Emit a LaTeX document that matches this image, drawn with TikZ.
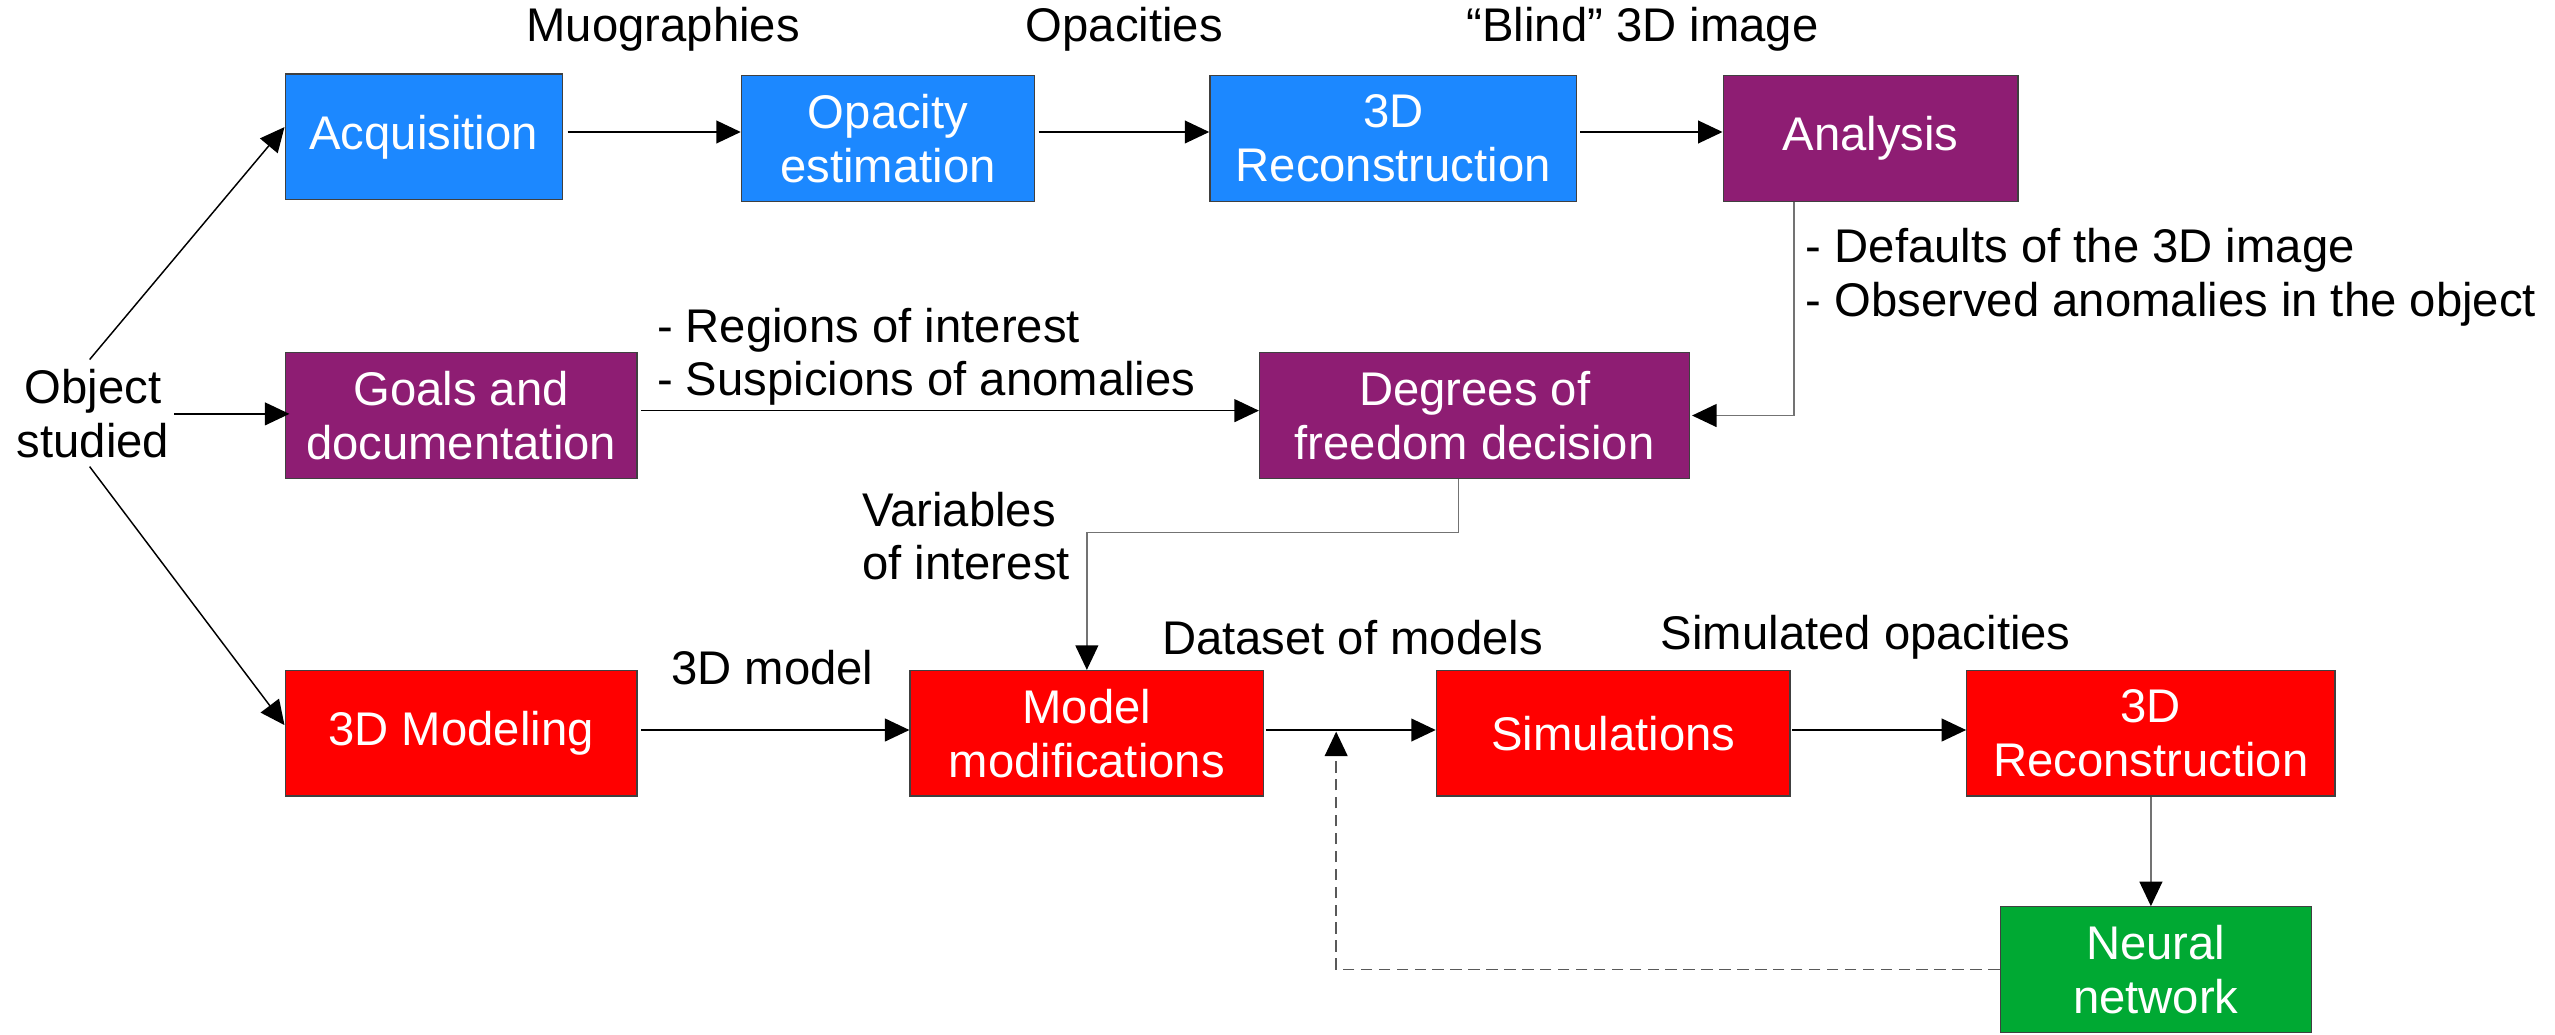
\documentclass[tikz,border=0pt]{standalone}
\usepackage{fontspec}
\setmainfont{Liberation Sans}
\usetikzlibrary{arrows.meta}
\definecolor{cblue}{HTML}{1C88FF}
\definecolor{cpurple}{HTML}{8E1D73}
\definecolor{cred}{HTML}{FF0000}
\definecolor{cgreen}{HTML}{00A933}
\tikzset{
  box/.style={draw=black!75, line width=0.8pt, text=white, align=center, inner sep=0pt, minimum height=77pt},
  lbl/.style={text=black, align=left, inner sep=0pt},
  arr/.style={line width=0.9pt, -{Triangle[length=15pt,width=14pt,color=black]}},
  garr/.style={arr, draw=black!55},
}
\begin{document}
\begin{tikzpicture}[x=1pt,y=-1pt, every node/.style={font=\fontsize{29}{33}\selectfont}]
\useasboundingbox (0,0) rectangle (1568,635);
% nodes
\node[lbl, align=center] (obj) at (57,254) {Object\\studied};
\node[box, fill=cblue, minimum width=170pt] (acq) at (260,84) {Acquisition};
\node[box, fill=cblue, minimum width=180pt] (opa) at (545,85) {Opacity\\estimation};
\node[box, fill=cblue, minimum width=225pt] (rec1) at (855,85) {3D\\Reconstruction};
\node[box, fill=cpurple, minimum width=181pt] (ana) at (1148,85) {Analysis};
\node[box, fill=cpurple, minimum width=216pt] (goals) at (283,255) {Goals and\\documentation};
\node[box, fill=cpurple, minimum width=264pt] (deg) at (905,255) {Degrees of\\freedom decision};
\node[box, fill=cred, minimum width=216pt] (mdl) at (283,450) {3D Modeling};
\node[box, fill=cred, minimum width=217pt] (mod) at (667,450) {Model\\modifications};
\node[box, fill=cred, minimum width=217pt] (sim) at (990,450) {Simulations};
\node[box, fill=cred, minimum width=226pt] (rec2) at (1320,450) {3D\\Reconstruction};
\node[box, fill=cgreen, minimum width=191pt] (nn) at (1323,595) {Neural\\network};
% labels
\node[lbl] (l1) at (407,18) {Muographies};
\node[lbl] (l2) at (690,18) {Opacities};
\node[lbl] (l3) at (1008,18) {“Blind” 3D image};
\node[lbl, anchor=west] (l4) at (1108,170) {- Defaults of the 3D image\\- Observed anomalies in the object};
\node[lbl, anchor=west] (l5) at (403,219) {- Regions of interest\\- Suspicions of anomalies};
\node[lbl, anchor=west] (l6) at (529,329) {Variables\\of interest};
\node[lbl] (l7) at (474,410) {3D model};
\node[lbl] (l8) at (830,391) {Dataset of models};
\node[lbl] (l9) at (1145,391) {Simulated opacities};
\coordinate (j) at (820,449);
% connectors
\draw[arr] ([xshift=-2pt,yshift=6pt]obj.north) -- ([yshift=6pt]acq.west);
\draw[arr] ([xshift=3pt]obj.east) -- ([xshift=3pt]obj.east -| goals.west);
\draw[arr] ([xshift=-2pt,yshift=-5pt]obj.south) -- ([yshift=5pt]mdl.west);
\draw[arr] ([xshift=3pt,yshift=3pt]acq.east) -- ([yshift=4pt]opa.west);
\draw[arr] ([xshift=2pt,yshift=4pt]opa.east) -- ([yshift=4pt]rec1.west);
\draw[arr] ([xshift=2pt,yshift=4pt]rec1.east) -- ([yshift=4pt]ana.west);
\draw[garr] ([xshift=-47pt]ana.south) |- ([xshift=1pt]deg.east);
\draw[arr] ([xshift=2pt,yshift=3pt]goals.east) -- ([yshift=3pt]deg.west);
\draw[garr] ([xshift=-10pt]deg.south) -- ++(0,33) -| (mod.north);
\draw[arr] ([xshift=2pt,yshift=2pt]mdl.east) -- ([yshift=2pt]mod.west);
\draw[arr] ([xshift=1pt,yshift=2pt]mod.east) -- ([yshift=2pt]sim.west);
\draw[arr] ([xshift=1pt,yshift=2pt]sim.east) -- ([yshift=2pt]rec2.west);
\draw[garr] (rec2.south) -- (rec2.south |- nn.north);
\draw[arr, draw=black!65, dash pattern=on 7pt off 4pt] (nn.west) -| (j);
\end{tikzpicture}
\end{document}
